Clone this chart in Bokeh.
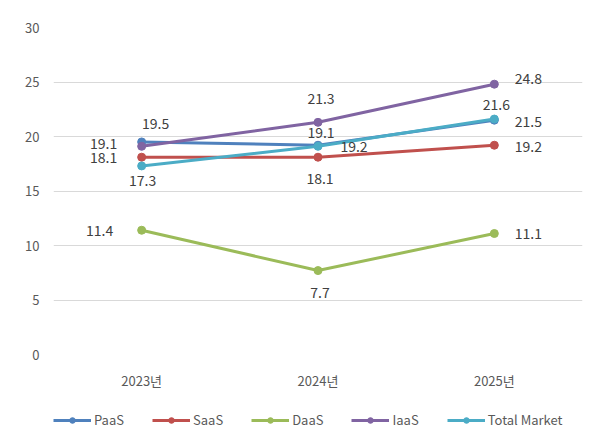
from bokeh.plotting import figure
from bokeh.layouts import column
from bokeh.models import (FactorRange, Range1d, FixedTicker, Legend, LegendItem,
                          ColumnDataSource)
from bokeh.core.properties import value
from bokeh.embed import file_html
from bokeh.resources import INLINE

years = ["2023년", "2024년", "2025년"]
series_names = ["PaaS", "SaaS", "DaaS", "IaaS", "Total Market"]
paas = [19.5, 19.2, 21.5]
saas = [18.1, 18.1, 19.2]
daas = [11.4, 7.7, 11.1]
iaas = [19.1, 21.3, 24.8]
total = [17.3, 19.1, 21.6]
y_ticks = [0, 5, 10, 15, 20, 25, 30]

series_values = [paas, saas, daas, iaas, total]
colors = ["#4F81BD", "#C0504D", "#9BBB59", "#8064A2", "#4BACC6"]

# label offsets (screen px) per series per year: (dx, dy) with dy positive = down
offsets = [
    [(14, -18), (36, 1), (34, 1)],      # PaaS
    [(-38, 0), (2, 21), (34, 1)],       # SaaS
    [(-42, 0), (2, 22), (34, 0)],       # DaaS
    [(-38, -3), (3, -24), (34, -6)],    # IaaS
    [(1, 15), (3, -14), (2, -15)],      # Total
]

FONT = "Noto Sans CJK KR"

p = figure(width=599, height=400, output_backend="svg", toolbar_location=None,
           x_range=FactorRange(factors=years, range_padding=0),
           y_range=Range1d(0, 30),
           min_border_left=53, min_border_right=17, min_border_top=27,
           min_border_bottom=46)
p.outline_line_color = None
p.background_fill_color = "white"
p.border_fill_color = "white"

p.xgrid.grid_line_color = None
p.ygrid.grid_line_color = "#D9D9D9"
p.ygrid.grid_line_width = 1
p.yaxis.ticker = FixedTicker(ticks=y_ticks)
for ax in (p.xaxis[0], p.yaxis[0]):
    ax.axis_line_color = None
    ax.major_tick_line_color = None
    ax.minor_tick_line_color = None
    ax.major_label_text_color = "#595959"
    ax.major_label_text_font = FONT
    ax.major_label_text_font_size = "13px"
p.yaxis.major_label_standoff = 8
p.xaxis.major_label_standoff = 10

for name, vals, col in zip(series_names, series_values, colors):
    src = ColumnDataSource(dict(x=years, y=vals))
    p.line("x", "y", source=src, line_color=col, line_width=3)
    p.scatter("x", "y", source=src, marker="circle", size=8,
              fill_color=col, line_color=col)

lx, ly, lt, ldx, ldy = [], [], [], [], []
for vals, offs in zip(series_values, offsets):
    for yr, v, (dx, dy) in zip(years, vals, offs):
        lx.append(yr)
        ly.append(v)
        lt.append(f"{v:.1f}")
        ldx.append(dx)
        ldy.append(dy)
lsrc = ColumnDataSource(dict(x=lx, y=ly, t=lt, dx=ldx, dy=ldy))
p.text("x", "y", text="t", source=lsrc, x_offset="dx", y_offset="dy",
       text_align="center", text_baseline="middle", text_color="#404040",
       text_font=value(FONT), text_font_size="14px")

# legend strip below the chart
lg = figure(width=599, height=46, output_backend="svg", toolbar_location=None,
            x_range=Range1d(0, 1), y_range=Range1d(0, 1),
            x_axis_type=None, y_axis_type=None,
            min_border_left=0, min_border_right=0, min_border_top=0,
            min_border_bottom=0)
lg.outline_line_color = None
lg.grid.visible = False
items = []
for name, col in zip(series_names, colors):
    off = ColumnDataSource(dict(x=[-5, -4], y=[-5, -5]))
    ln = lg.line("x", "y", source=off, line_color=col, line_width=3)
    mk = lg.scatter("x", "y", source=off, marker="circle", size=8,
                    fill_color=col, line_color=col)
    items.append(LegendItem(label=name, renderers=[ln, mk]))
legend = Legend(items=items, orientation="horizontal", location=(0, 17),
                glyph_width=38, glyph_height=14, label_standoff=3, spacing=28,
                padding=4, margin=0, border_line_color=None,
                background_fill_alpha=0,
                label_text_font=FONT, label_text_font_size="13px",
                label_text_color="#595959")
lg.add_layout(legend, "center")

layout = column(p, lg, spacing=0)
open("out.html", "w").write(file_html(layout, INLINE))
